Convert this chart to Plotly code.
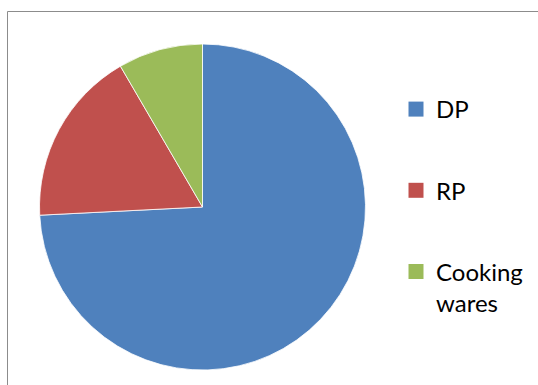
import plotly.graph_objects as go

labels = ["DP", "RP", "Cooking<br>wares"]
values = [74.2, 17.4, 8.4]
colors = ["#4F81BD", "#C0504D", "#9BBB59"]

W, H = 538, 385
cx, cy, r = 202.5, 207, 163

fig = go.Figure()
fig.add_trace(go.Pie(
    labels=labels,
    values=values,
    sort=False,
    direction="clockwise",
    rotation=0,
    textinfo="none",
    showlegend=False,
    marker=dict(colors=colors, line=dict(color="white", width=0.8)),
    domain=dict(x=[(cx - r) / W, (cx + r) / W], y=[(H - cy - r) / H, (H - cy + r) / H]),
))

# legend entries, one group each so the legend can space them
for i, (lab, col) in enumerate(zip(labels, colors)):
    fig.add_trace(go.Scatter(
        x=[None], y=[None], mode="markers", name=lab,
        legendgroup="g%d" % i,
        marker=dict(symbol="square", size=15, color=col),
        showlegend=True,
    ))

# chart-area frame: top and left edges (right/bottom run off the picture)
x_left, y_top = 7.5 / W, 1 - 11.5 / H
fig.add_shape(type="line", xref="paper", yref="paper",
              x0=x_left, x1=1.2, y0=y_top, y1=y_top,
              line=dict(color="#8c8c8c", width=1), layer="below")
fig.add_shape(type="line", xref="paper", yref="paper",
              x0=x_left, x1=x_left, y0=-0.2, y1=y_top,
              line=dict(color="#8c8c8c", width=1), layer="below")

fig.update_layout(
    width=W, height=H,
    margin=dict(l=0, r=0, t=0, b=0),
    paper_bgcolor="white",
    plot_bgcolor="rgba(0,0,0,0)",
    xaxis=dict(visible=False),
    yaxis=dict(visible=False),
    font=dict(family="Lato, Carlito, Calibri, sans-serif", size=24, color="#000000"),
    showlegend=True,
    legend=dict(
        x=396 / W, xanchor="left",
        y=1 - 87 / H, yanchor="top",
        traceorder="grouped",
        tracegroupgap=47,
        valign="top",
        bgcolor="rgba(0,0,0,0)",
        font=dict(size=24),
    ),
)

fig.write_html(
    "out.html",
    config={"displayModeBar": False},
    post_script="document.body.style.margin='0';document.body.style.overflow='hidden';",
)
